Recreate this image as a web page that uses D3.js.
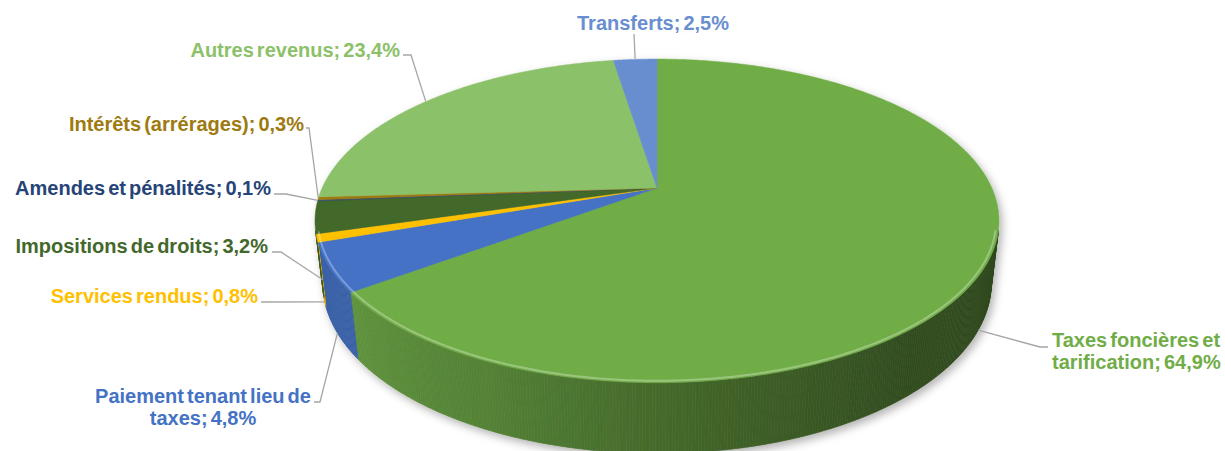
<!DOCTYPE html>
<html>
<head>
<meta charset="utf-8">
<script src="https://cdn.jsdelivr.net/npm/d3@7"></script>
<style>
  body { margin: 0; background: #fff; }
  svg { display: block; }
  .lbl { font-family: "Liberation Sans", Arial, sans-serif; font-weight: bold; font-size: 20px; word-spacing: -2.5px; }
</style>
</head>
<body>
<div class="chart"></div>
<script>
// revenue shares, clockwise from 12 o'clock
const categories = [
  "Taxes foncières et tarification",
  "Paiement tenant lieu de taxes",
  "Services rendus",
  "Impositions de droits",
  "Amendes et pénalités",
  "Intérêts (arrérages)",
  "Autres revenus",
  "Transferts"
];
const shares = [64.9, 4.8, 0.8, 3.2, 0.1, 0.3, 23.4, 2.5];
const colors = ["#70ad47", "#4472c4", "#ffc000", "#43682b", "#264478", "#9e7a10", "#8bc168", "#698ed0"];

// where each label sits (baseline of first line) and where its leader starts
const labelLayout = [
  { x: 1052, y: 347, anchor: "start",  wrap: 180, lead: [1048, 347], hook: -8, rim: "bottom" },
  { x: 203,  y: 403, anchor: "middle", wrap: 230, lead: [314, 402],  hook: 6,  rim: "bottom" },
  { x: 258,  y: 303, anchor: "end",    wrap: 400, lead: [261, 302],  hook: 7,  rim: "bottom" },
  { x: 268,  y: 253, anchor: "end",    wrap: 400, lead: [272, 252],  hook: 9,  rim: "bottom" },
  { x: 271,  y: 195, anchor: "end",    wrap: 400, lead: [274, 194],  hook: 12, rim: "top" },
  { x: 304,  y: 131, anchor: "end",    wrap: 400, lead: [306, 128],  hook: 3,  rim: "top" },
  { x: 400,  y: 57,  anchor: "end",    wrap: 400, lead: [403, 55],   hook: 8,  rim: "top" },
  { x: 653,  y: 30,  anchor: "middle", wrap: 400, lead: [634, 34],   hook: 0,  rim: "top" }
];

const width = 1225, height = 451;

const svg = d3.select(".chart")
  .append("svg")
  .attr("width", width)
  .attr("height", height);

// perspective camera for the 3d pie
const cx = 657, cy = 188;
const tilt = 27.6 * Math.PI / 180;
const sn = Math.sin(tilt), cs = Math.cos(tilt);
const dist = 4.36, focal = 1460, thick = 0.21;

function project(th, r, z) {
  const X = r * Math.sin(th), Y = -r * Math.cos(th);
  const depth = dist - Y * cs - z * sn;
  return [cx + focal * X / depth, cy - focal * (z * cs - Y * sn) / depth];
}

const pie = d3.pie().sort(null).value(d => d);
const arcs = pie(shares);
const fmt = v => d3.format(".1f")(v).replace(".", ",") + "%";

// shadow
const defs = svg.append("defs");
const f = defs.append("filter").attr("id", "shadow")
  .attr("x", "-10%").attr("y", "-10%").attr("width", "120%").attr("height", "130%");
f.append("feDropShadow")
  .attr("dx", 3).attr("dy", 4).attr("stdDeviation", 4)
  .attr("flood-color", "#000").attr("flood-opacity", 0.3);

const g = svg.append("g").attr("filter", "url(#shadow)");
const line = d3.line();

// side wall: only the part facing the camera
const visFrom = Math.acos(-1 / (dist * cs));
const visTo = 2 * Math.PI - visFrom;
const shade = d3.scaleLinear()
  .domain([100, 140, 205, 235, 260].map(a => a * Math.PI / 180))
  .range([2.5, 2.3, 0.8, 0.45, 0.4])
  .clamp(true);

const step = 0.008;
const strips = [];
arcs.forEach((a, i) => {
  const a0 = Math.max(a.startAngle, visFrom), a1 = Math.min(a.endAngle, visTo);
  for (let t = a0; t < a1; t += step) {
    const t2 = Math.min(t + step, a1);
    strips.push({ i, t, t2 });
  }
});
g.append("g").selectAll("path")
  .data(strips)
  .join("path")
  .attr("d", d => line([project(d.t, 1, 0), project(d.t2, 1, 0), project(d.t2, 1, -thick), project(d.t, 1, -thick)]) + "Z")
  .attr("fill", d => d3.color(colors[d.i]).darker(shade((d.t + d.t2) / 2)))
  .attr("stroke", d => d3.color(colors[d.i]).darker(shade((d.t + d.t2) / 2)))
  .attr("stroke-width", 0.6);

// top faces
g.append("g").selectAll("path")
  .data(arcs)
  .join("path")
  .attr("d", a => {
    const pts = [[cx, cy]];
    const n = Math.max(2, Math.ceil((a.endAngle - a.startAngle) / 0.01));
    for (let j = 0; j <= n; j++) {
      pts.push(project(a.startAngle + (a.endAngle - a.startAngle) * j / n, 1, 0));
    }
    return line(pts) + "Z";
  })
  .attr("fill", (a, i) => colors[i])
  .attr("stroke", (a, i) => colors[i])
  .attr("stroke-width", 0.5);

// soft bevel along the front rim
const rim = [];
for (let t = visFrom; t <= visTo; t += 0.01) rim.push(project(t, 0.992, 0));
g.append("path")
  .attr("d", line(rim))
  .attr("fill", "none")
  .attr("stroke", "#fff")
  .attr("stroke-opacity", 0.3)
  .attr("stroke-width", 2);

// labels
const labels = svg.append("g");
arcs.forEach((a, i) => {
  const L = labelLayout[i];
  const txt = labels.append("text")
    .attr("class", "lbl")
    .attr("text-anchor", L.anchor)
    .attr("fill", colors[i]);
  const words = (categories[i] + "; " + fmt(shares[i])).split(" ");
  let lineNo = 0;
  let tspan = txt.append("tspan").attr("x", L.x).attr("y", L.y);
  let cur = [];
  words.forEach(w => {
    cur.push(w);
    tspan.text(cur.join(" "));
    if (tspan.node().getComputedTextLength() > L.wrap && cur.length > 1) {
      cur.pop();
      tspan.text(cur.join(" "));
      cur = [w];
      lineNo++;
      tspan = txt.append("tspan").attr("x", L.x).attr("y", L.y + lineNo * 22).text(w);
    }
  });

  // leader
  const mid = (a.startAngle + a.endAngle) / 2;
  const end = project(mid, 1, L.rim === "top" ? 0 : -thick);
  const pts = [L.lead];
  if (L.hook) pts.push([L.lead[0] + L.hook, L.lead[1]]);
  pts.push(end);
  labels.append("path")
    .attr("d", line(pts))
    .attr("fill", "none")
    .attr("stroke", "#a6a6a6")
    .attr("stroke-width", 1.3);
});
</script>
</body>
</html>
